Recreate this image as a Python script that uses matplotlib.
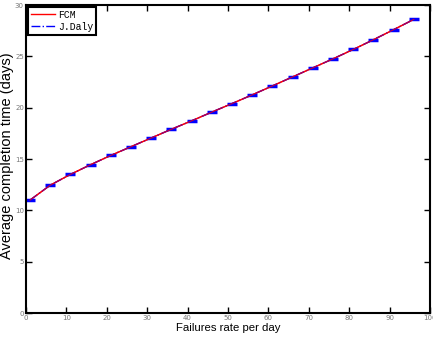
import matplotlib
matplotlib.use("Agg")
import matplotlib.pyplot as plt

x_rates = [1, 6, 11, 16, 21, 26, 31, 36, 41, 46, 51, 56, 61, 66, 71, 76, 81, 86, 91, 96]
fcm = [11.0, 12.45, 13.5, 14.45, 15.35, 16.2, 17.05, 17.9, 18.72, 19.57,
       20.4, 21.25, 22.12, 23.0, 23.88, 24.76, 25.67, 26.62, 27.6, 28.6]
jdaly = list(fcm)
x_ticks = list(range(0, 101, 10))
y_ticks = list(range(0, 31, 5))

fig = plt.figure(figsize=(4.33, 3.42), dpi=100)
ax = fig.add_axes([26/433, 29/342, 404/433, 308/342])

ax.plot(x_rates, fcm, color='red', lw=1.0, label='FCM')
ax.plot(x_rates, jdaly, color='blue', lw=1.0, ls='-.', marker='_',
        markersize=6.5, markeredgewidth=2.5, label='J.Daly')
ax.plot(x_rates, fcm, color='red', lw=0.8, alpha=0.8)

ax.set_xlim(0, 100)
ax.set_ylim(0, 30)
ax.set_xticks(x_ticks)
ax.set_yticks(y_ticks)
ax.tick_params(direction='in', length=4, width=1, top=True, right=True,
               labelsize=5, labelcolor='#777777', pad=1.5)
for s in ax.spines.values():
    s.set_linewidth(1.5)

ax.set_xlabel('Failures rate per day', fontsize=8.2,
              family=['Liberation Sans Narrow', 'Liberation Sans'], labelpad=1.5)
ax.set_ylabel('Average completion time (days)', fontsize=10.5, family='Liberation Sans')
ax.yaxis.set_label_coords(-12/404, 0.51)

leg = ax.legend(loc='upper left', prop={'family': 'Liberation Mono', 'size': 7},
                fancybox=False, edgecolor='black', framealpha=1,
                borderpad=0.3, handlelength=2.5, handletextpad=0.3,
                labelspacing=0.2, borderaxespad=0.2)
leg.get_frame().set_linewidth(1.5)
for h in leg.legend_handles:
    h.set_marker('')

fig.savefig('out.png', dpi=100)
